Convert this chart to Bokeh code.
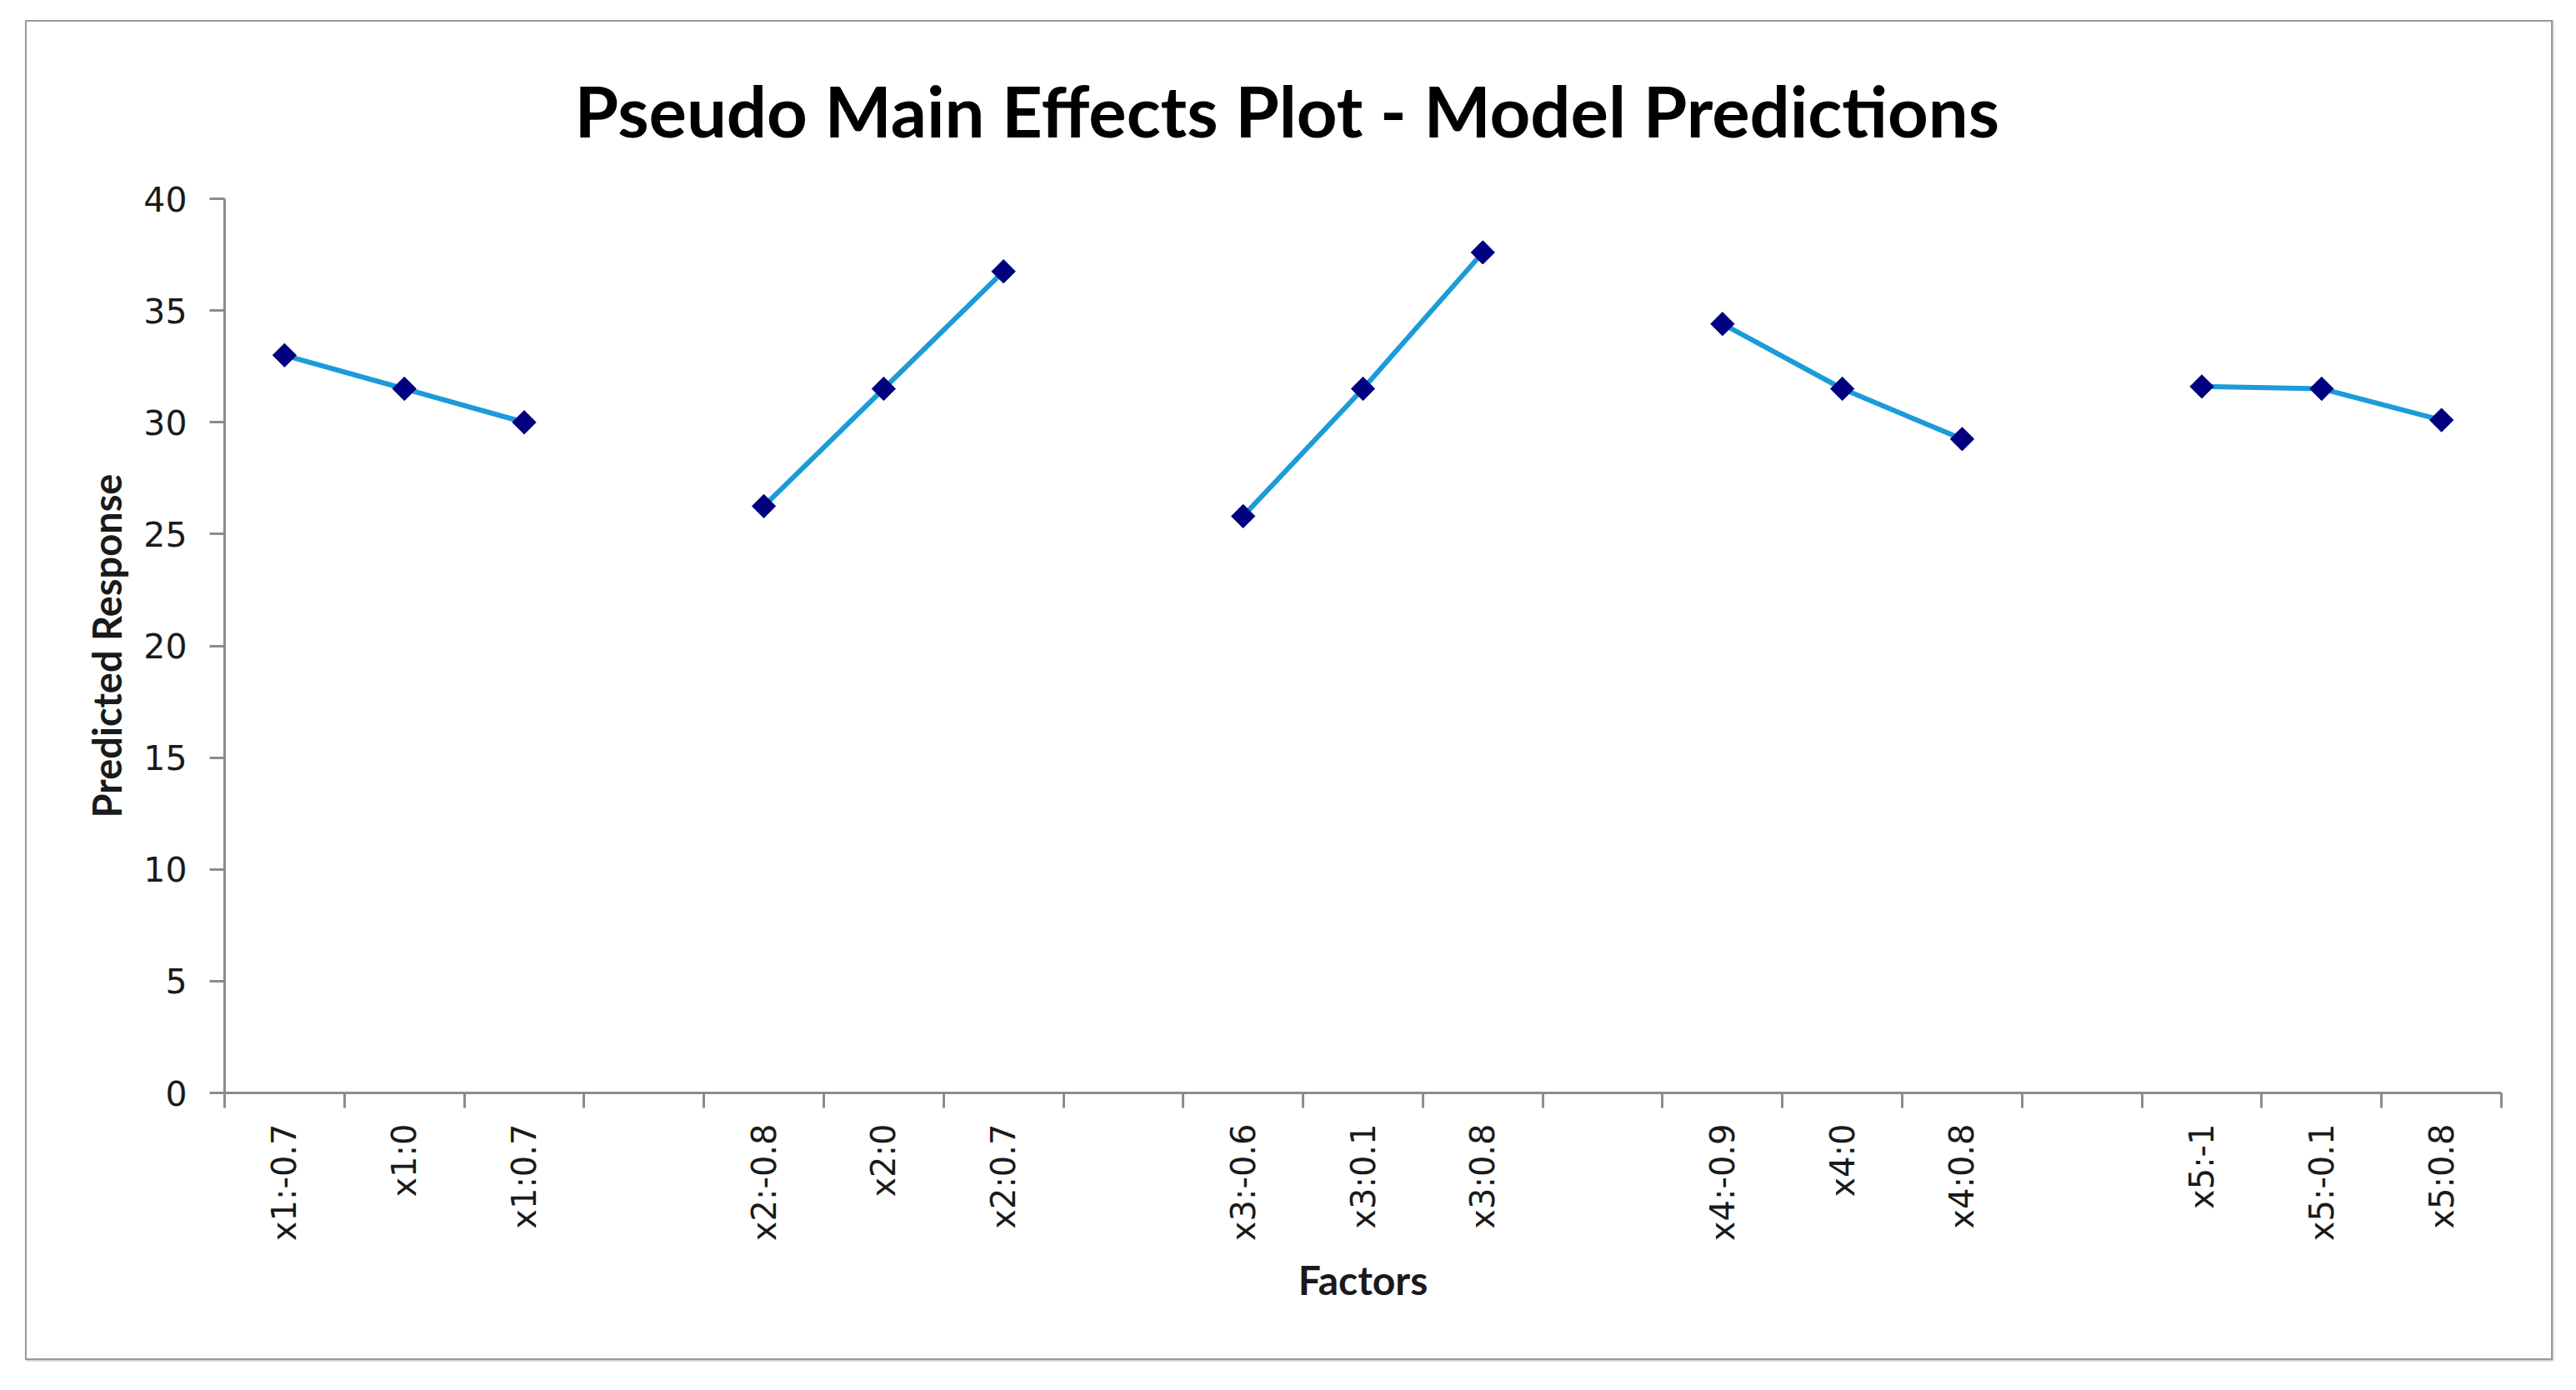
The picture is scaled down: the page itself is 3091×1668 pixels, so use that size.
import math
from bokeh.plotting import figure
from bokeh.models import Range1d, FixedTicker, ColumnDataSource
from bokeh.embed import file_html
from bokeh.resources import INLINE

# ---- data ----
factors = ["x1", "x2", "x3", "x4", "x5"]
levels = [
    ["-0.7", "0", "0.7"],
    ["-0.8", "0", "0.7"],
    ["-0.6", "0.1", "0.8"],
    ["-0.9", "0", "0.8"],
    ["-1", "-0.1", "0.8"],
]
predicted = [
    [33.0, 31.5, 30.0],
    [26.25, 31.5, 36.75],
    [25.8, 31.5, 37.6],
    [34.4, 31.5, 29.25],
    [31.6, 31.5, 30.1],
]
y_ticks = [0, 5, 10, 15, 20, 25, 30, 35, 40]
title_text = "Pseudo Main Effects Plot - Model Predictions"
x_title = "Factors"
y_title = "Predicted Response"

# category slots: each factor's levels followed by one empty slot
slots_per_group = len(levels[0]) + 1
n_slots = len(factors) * slots_per_group - 1

LINE_COLOR = "#1B9BD9"
MARKER_COLOR = "#000080"
AXIS_COLOR = "#8C8C8C"

p = figure(
    width=3033, height=1608,
    x_range=Range1d(0, n_slots), y_range=Range1d(0, 40),
    output_backend="svg", toolbar_location=None,
    min_border_left=237, min_border_right=64,
    min_border_top=212, min_border_bottom=323,
)
p.margin = (24, 0, 0, 30)
p.styles = {"border": "2px solid #9A9A9A", "box-shadow": "1px 1px 2px #BBBBBB"}
p.outline_line_color = None
p.xgrid.visible = False
p.ygrid.visible = False
p.background_fill_color = "white"
p.border_fill_color = "white"

centers = []
labels = {}
for g, (fac, levs, vals) in enumerate(zip(factors, levels, predicted)):
    xs = [g * slots_per_group + j + 0.5 for j in range(len(levs))]
    for x, lv in zip(xs, levs):
        centers.append(x)
        labels[x] = f"{fac}:{lv}"
    src = ColumnDataSource(dict(x=xs, y=vals))
    p.line("x", "y", source=src, line_color=LINE_COLOR, line_width=6)
    p.scatter("x", "y", source=src, marker="square", angle=math.pi / 4,
              size=20, fill_color=MARKER_COLOR, line_color=MARKER_COLOR)

# x axis
xa = p.xaxis[0]
xa.ticker = FixedTicker(ticks=centers, minor_ticks=list(range(n_slots + 1)))
xa.major_label_overrides = labels
xa.major_label_orientation = math.pi / 2
xa.major_tick_out = 0
xa.major_tick_in = 0
xa.minor_tick_out = 18
xa.minor_tick_in = 0
xa.minor_tick_line_color = AXIS_COLOR
xa.minor_tick_line_width = 3
xa.axis_line_color = AXIS_COLOR
xa.axis_line_width = 3
xa.major_label_standoff = 19
xa.major_label_text_font = "DejaVu Sans"
xa.major_label_text_font_size = "40px"
xa.major_label_text_color = "#1A1A1A"
xa.axis_label = x_title
xa.axis_label_text_font = "Lato"
xa.axis_label_text_font_style = "bold"
xa.axis_label_text_font_size = "48px"
xa.axis_label_text_color = "#1A1A1A"
xa.axis_label_standoff = 15

# y axis
ya = p.yaxis[0]
ya.ticker = FixedTicker(ticks=y_ticks)
ya.major_tick_out = 18
ya.major_tick_in = 0
ya.minor_tick_out = 0
ya.minor_tick_in = 0
ya.major_tick_line_color = AXIS_COLOR
ya.major_tick_line_width = 3
ya.axis_line_color = AXIS_COLOR
ya.axis_line_width = 3
ya.major_label_standoff = 27
ya.major_label_text_font = "DejaVu Sans"
ya.major_label_text_font_size = "41px"
ya.major_label_text_color = "#1A1A1A"
ya.axis_label = y_title
ya.axis_label_text_font = "Lato"
ya.axis_label_text_font_style = "bold"
ya.axis_label_text_font_size = "47px"
ya.axis_label_text_color = "#1A1A1A"
ya.axis_label_standoff = 13

# title
p.title.text = title_text
p.title.align = "left"
p.title.offset = 420
p.title.vertical_align = "top"
p.title.text_font = "Lato"
p.title.text_font_style = "bold"
p.title.text_font_size = "85px"
p.title.text_color = "#000000"
p.title.standoff = 108

open("out.html", "w").write(file_html(p, INLINE))
